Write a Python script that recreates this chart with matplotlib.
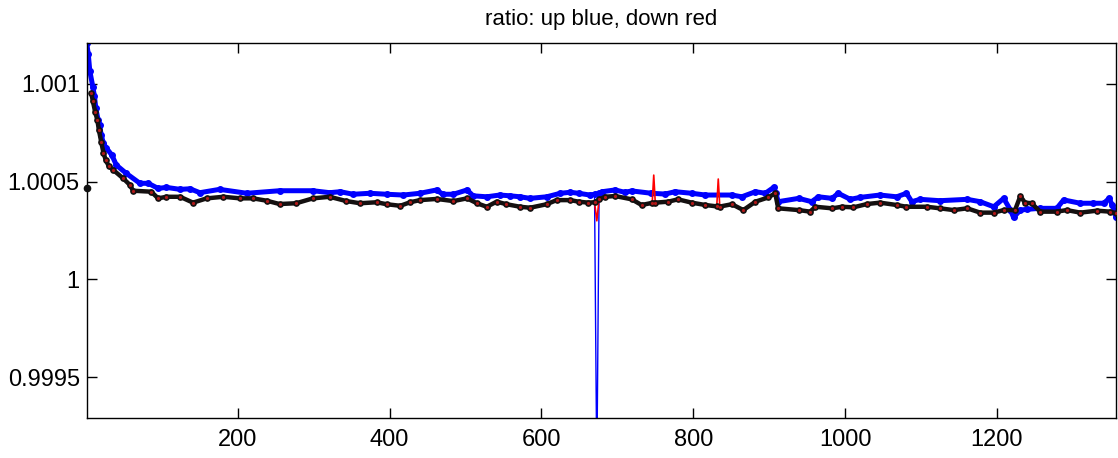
import numpy as np
import matplotlib
matplotlib.use("Agg")
import matplotlib.pyplot as plt
from matplotlib.ticker import FixedLocator, FuncFormatter

# ---- data ----
title_text = "ratio: up blue, down red"

x_up = [1, 3, 5, 9, 11, 13, 16, 18, 20, 23, 27, 34, 40, 53, 71, 82, 95, 106, 124, 137,
        150, 176, 212, 255, 299, 321, 335, 352, 374, 396, 418, 440, 462, 470, 484, 502,
        510, 528, 545, 559, 572, 585, 607, 625, 638, 649, 664, 670, 676, 680, 697, 710,
        719, 745, 763, 776, 798, 816, 851, 864, 882, 895, 906, 909, 912, 939, 956, 965,
        983, 991, 1007, 1020, 1046, 1068, 1081, 1088, 1099, 1125, 1161, 1178, 1196, 1209,
        1218, 1222, 1231, 1240, 1257, 1279, 1288, 1310, 1327, 1341, 1348, 1352, 1356, 1357]
up = [1.001208, 1.001153, 1.001067, 1.000986, 1.000940, 1.000875, 1.000815, 1.000790,
      1.000739, 1.000696, 1.000671, 1.000637, 1.000585, 1.000543, 1.000492, 1.000492,
      1.000466, 1.000471, 1.000461, 1.000464, 1.000444, 1.000461, 1.000441, 1.000454,
      1.000454, 1.000444, 1.000449, 1.000436, 1.000441, 1.000436, 1.000432, 1.000441,
      1.000458, 1.000436, 1.000436, 1.000458, 1.000428, 1.000423, 1.000432, 1.000428,
      1.000423, 1.000415, 1.000423, 1.000441, 1.000446, 1.000441, 1.000432, 1.000436,
      1.000440, 1.000449, 1.000458, 1.000446, 1.000453, 1.000441, 1.000437, 1.000449,
      1.000441, 1.000432, 1.000432, 1.000423, 1.000449, 1.000441, 1.000471, 1.000440,
      1.000398, 1.000415, 1.000398, 1.000423, 1.000415, 1.000441, 1.000410, 1.000420,
      1.000432, 1.000423, 1.000441, 1.000398, 1.000410, 1.000403, 1.000410, 1.000398,
      1.000372, 1.000415, 1.000355, 1.000318, 1.000355, 1.000359, 1.000364, 1.000364,
      1.000407, 1.000390, 1.000390, 1.000390, 1.000415, 1.000381, 1.000342, 1.000320]
x_up_spike = [673]
up_spike = [0.999000]

x_down_first = [1]
down_first = [1.000466]

x_down = [7, 9, 12, 15, 17, 20, 23, 26, 30, 36, 49, 58, 62, 86, 95, 106, 124, 141, 159,
          181, 203, 220, 238, 255, 277, 299, 321, 343, 361, 383, 396, 414, 427, 440, 462,
          484, 502, 515, 528, 541, 554, 572, 585, 607, 620, 638, 649, 662, 670, 676, 684,
          697, 719, 732, 746, 750, 767, 780, 798, 816, 831, 835, 851, 866, 882, 899, 908,
          912, 939, 954, 961, 983, 996, 1011, 1029, 1046, 1068, 1081, 1108, 1125, 1143,
          1161, 1178, 1196, 1209, 1224, 1231, 1237, 1246, 1257, 1279, 1292, 1310, 1332,
          1349, 1357]
down = [1.000952, 1.000914, 1.000858, 1.000815, 1.000764, 1.000705, 1.000648,
        1.000611, 1.000580, 1.000560, 1.000517, 1.000483, 1.000454, 1.000449, 1.000415,
        1.000423, 1.000423, 1.000393, 1.000415, 1.000423, 1.000415, 1.000415, 1.000403,
        1.000386, 1.000390, 1.000415, 1.000423, 1.000401, 1.000390, 1.000395, 1.000385,
        1.000377, 1.000395, 1.000406, 1.000412, 1.000401, 1.000415, 1.000390, 1.000372,
        1.000398, 1.000385, 1.000372, 1.000367, 1.000385, 1.000406, 1.000406, 1.000398,
        1.000393, 1.000395, 1.000410, 1.000423, 1.000427, 1.000410, 1.000381, 1.000392,
        1.000393, 1.000398, 1.000410, 1.000393, 1.000381, 1.000374, 1.000373, 1.000385,
        1.000355, 1.000398, 1.000420, 1.000441, 1.000364, 1.000355, 1.000347, 1.000372,
        1.000364, 1.000372, 1.000369, 1.000386, 1.000393, 1.000381, 1.000372, 1.000372,
        1.000364, 1.000355, 1.000364, 1.000342, 1.000342, 1.000355, 1.000355, 1.000427,
        1.000393, 1.000390, 1.000347, 1.000347, 1.000355, 1.000342, 1.000352, 1.000347,
        1.000339]
x_down_spike = [673, 748, 833]
down_spike = [1.000300, 1.000534, 1.000514]

x_ticks = [200, 400, 600, 800, 1000, 1200]
y_ticks = [0.9995, 1.0, 1.0005, 1.001]


def merged(xb, yb, xs, ys):
    xa = np.concatenate([np.asarray(xb, float), np.asarray(xs, float)])
    ya = np.concatenate([np.asarray(yb, float), np.asarray(ys, float)])
    order = np.argsort(xa, kind="stable")
    return xa[order], ya[order]


plt.rcParams["font.family"] = ["Liberation Sans", "DejaVu Sans"]

fig = plt.figure(figsize=(11.18, 4.58), dpi=100)
ax = fig.add_axes([0.0776, 0.0867, 0.9206, 0.8187])

# up series (blue)
xu_all, yu_all = merged(x_up, up, x_up_spike, up_spike)
ax.plot(xu_all, yu_all, color="#0000ff", lw=1.0, zorder=2)
ax.plot(x_up, up, color="#0000ff", lw=3.6, marker="o", ms=4.0, zorder=2,
        solid_joinstyle="round", solid_capstyle="round")

# down series (red line, black markers)
xd_all, yd_all = merged(x_down, down, x_down_spike, down_spike)
ax.plot(xd_all, yd_all, color="#ff0000", lw=1.2, zorder=3)
ax.plot(x_down, down, color="#141010", lw=3.2, marker="o", ms=3.8, zorder=4,
        solid_joinstyle="round", solid_capstyle="round")
ax.plot(x_down, down, ls="none", marker="o", ms=1.3, color="#b01818", zorder=5)
ax.plot(x_down_first, down_first, ls="none", marker="o", ms=4.5, color="#111111",
        zorder=5, clip_on=False)

ax.set_xlim(1, 1357)
ax.set_ylim(0.99929, 1.001208)

ax.xaxis.set_major_locator(FixedLocator(x_ticks))
ax.yaxis.set_major_locator(FixedLocator(y_ticks))
ax.yaxis.set_major_formatter(FuncFormatter(lambda v, p: "%g" % round(v, 6)))

ax.tick_params(direction="in", length=7, width=1.0, top=True, right=True,
               labelsize=17, colors="black")
ax.tick_params(axis="y", pad=5)
ax.tick_params(axis="x", pad=8)
for s in ax.spines.values():
    s.set_linewidth(1.0)
    s.set_color("black")

ax.set_title(title_text, fontsize=16, pad=13)

fig.savefig("out.png", dpi=100)
